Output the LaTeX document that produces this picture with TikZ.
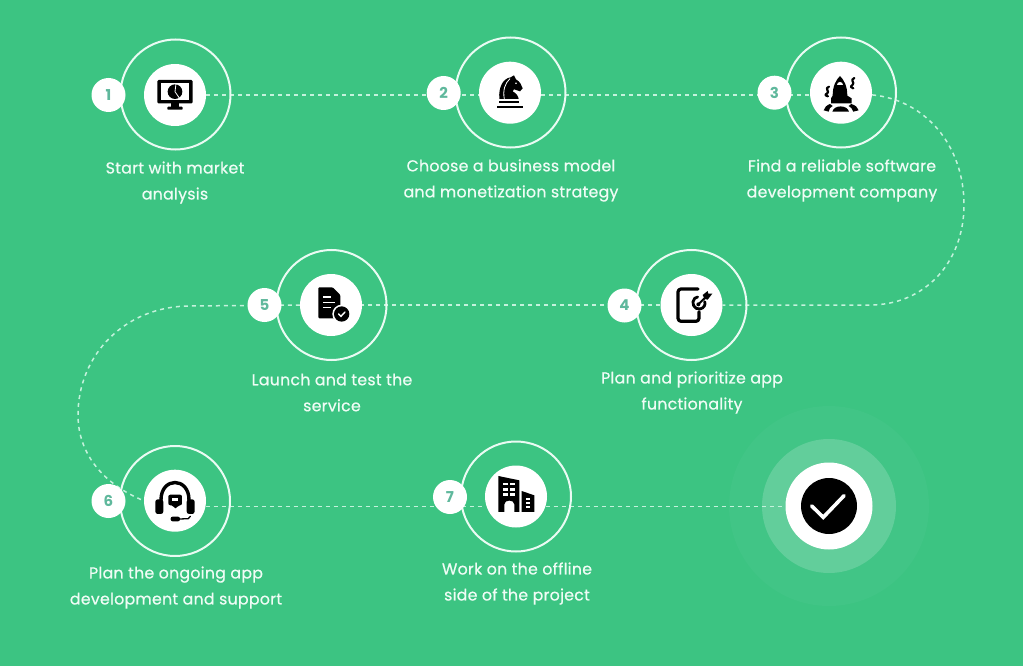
\documentclass[tikz,border=0pt]{standalone}
\usepackage{fontspec}
\setmainfont{Poppins}
\newfontfamily\labfont[FakeBold=0.6,LetterSpace=1.6]{Poppins}
\usetikzlibrary{backgrounds,calc}
\definecolor{bggreen}{HTML}{3CC482}
\definecolor{glowa}{HTML}{41C586}
\definecolor{glowb}{HTML}{62CE9B}
\definecolor{ringc}{HTML}{EAFBF3}
\definecolor{dashc}{HTML}{C4F2DC}
\definecolor{numc}{HTML}{5FB89C}
\definecolor{textc}{HTML}{EFFCF5}
\tikzset{
  ringn/.style={circle,draw=ringc,line width=2pt,minimum size=110pt,inner sep=0pt},
  hub/.style={circle,fill=white,minimum size=62pt,inner sep=0pt},
  badge/.style={circle,fill=white,minimum size=34pt,inner sep=0pt,text=numc,font=\fontsize{15}{15}\selectfont\bfseries},
  lab/.style={align=center,text=textc,font=\labfont\fontsize{15.8}{26}\selectfont},
  link/.style={draw=dashc,line width=1.5pt,dash pattern=on 4pt off 4pt},
  zoomicon/.style 2 args={shift={(#1,#2)},x=0.3333pt,y=-0.3333pt},
  ib/.style={fill=black},
  iw/.style={fill=white},
  cut/.style={draw=white,line width=.8pt},
  ink/.style={draw=black,line cap=round,line join=round}
}
\begin{document}
\begin{tikzpicture}[x=1pt,y=-1pt]
\useasboundingbox (0,0) rectangle (1023,666);
% step 1-7 rings, badges, hubs
\node[ringn] (r1) at (175.5,94.5) {};
\node[ringn] (r2) at (510.5,92.5) {};
\node[ringn] (r3) at (841,92.5) {};
\node[ringn] (r4) at (691.5,305) {};
\node[ringn] (r5) at (331.5,305) {};
\node[ringn] (r6) at (175,501) {};
\node[ringn] (r7) at (516,496.5) {};
\node[hub] (i1) at (175,95) {};
\node[hub] (i2) at (510,92.7) {};
\node[hub] (i3) at (841,92.7) {};
\node[hub] (i4) at (691.5,305) {};
\node[hub] (i5) at (331,305) {};
\node[hub] (i6) at (175,500.7) {};
\node[hub] (i7) at (516,496.5) {};
\node[badge] (b1) at (108.5,95) {1};
\node[badge] (b2) at (443.7,93) {2};
\node[badge] (b3) at (774.5,92.7) {3};
\node[badge] (b4) at (624.5,305.5) {4};
\node[badge] (b5) at (264.5,305) {5};
\node[badge] (b6) at (108.5,501) {6};
\node[badge] (b7) at (450,497) {7};
% finish
\node[circle,fill=white,minimum size=87pt,inner sep=0pt] (g3) at (829,506) {};
\node[circle,fill=black,minimum size=56pt,inner sep=0pt] (g4) at (829,506) {};
\draw[white,line width=3.6pt,line cap=round,line join=miter] (811.7,506) -- (823.3,517.3) -- (844,495.7);
% labels
\node[lab] (t1) at (175,182.5) {Start with market\\analysis};
\node[lab] (t2) at (511,180.5) {Choose a business model\\and monetization strategy};
\node[lab] (t3) at (842,180.5) {Find a reliable software\\development company};
\node[lab] (t4) at (692,392.5) {Plan and prioritize app\\functionality};
\node[lab] (t5) at (332,392.5) {Launch and test the\\service};
\node[lab] (t6) at (176,587.5) {Plan the ongoing app\\development and support};
\node[lab] (t7) at (517,583.5) {Work on the offline\\side of the project};
% connectors
\begin{scope}[on background layer]
\fill[bggreen] (0,0) rectangle (1023,666);
\node[circle,fill=glowa,minimum size=200pt,inner sep=0pt] (g1) at (829,506) {};
\node[circle,fill=glowb,minimum size=134pt,inner sep=0pt] (g2) at (829,506) {};
\draw[link] (i1.east) -- (i1.east -| i2.west);
\draw[link] (i2.-4) -- (i2.-4 -| i3.west);
\draw[link] (i3.-4) .. controls (925,100) and (964,145) .. (964,205) .. controls (964,262) and (925,305) .. (870,305) -- (i4.east);
\draw[link] (i4.west) -- (i5.east);
\draw[link] (i5.west) -- (190,306) .. controls (125,306) and (78,355) .. (78,415) .. controls (78,455) and (105,485) .. (i6.west);
\draw[link] (i6.-11) -- (i6.-11 -| i7.west);
\draw[link] (i7.-19) -- (i7.-19 -| g3.west);
\end{scope}
% icon 1 monitor
\begin{scope}[zoomicon={80}{30}]
\fill[ib,rounded corners=1.2pt] (232,150) rectangle (338,220);
\fill[iw] (242,160) rectangle (328,209);
\fill[ib] (272,220) rectangle (298,230);
\fill[ib,rounded corners=.8pt] (262,230) rectangle (308,239);
\fill[ib] (285,185) circle[radius=22];
\draw[cut] (288,161) -- (285,185) -- (300,207);
\end{scope}
% icon 2 knight
\begin{scope}[zoomicon={420}{30}]
\fill[ib] (238,207) .. controls (235,170) and (250,145) .. (272,142) -- (282,136) -- (288,148) .. controls (300,155) and (305,165) .. (308,175) -- (300,184) -- (282,178) -- (278,184) .. controls (290,190) and (295,200) .. (296,207) -- cycle;
\draw[cut] (253,207) .. controls (248,180) and (255,160) .. (270,146);
\fill[iw] (288,160) circle[radius=2.5];
\fill[ib] (238,212) rectangle (296,220);
\fill[ib] (232,227) rectangle (308,235);
\end{scope}
% icon 3 rocket
\begin{scope}[zoomicon={750}{30}]
\fill[ib] (248,197) .. controls (248,168) and (258,150) .. (270,138) .. controls (282,150) and (292,168) .. (292,197) -- (305,205) -- (305,220) -- (243,220) -- (243,205) -- cycle;
\fill[iw] (262,165) .. controls (262,153) and (280,153) .. (280,165) -- cycle;
\fill[ib] (247,245) .. controls (252,224) and (292,224) .. (297,245) -- cycle;
\fill[ib] (221,241) .. controls (223,232) and (230,226) .. (240,222) -- (248,228) .. controls (240,232) and (238,236) .. (236,245) -- cycle;
\fill[ib] (326,241) .. controls (324,232) and (316,226) .. (304,222) -- (296,228) .. controls (304,232) and (306,236) .. (310,245) -- cycle;
\draw[ink,line width=2.2pt] (237,170) .. controls (222,174) and (240,185) .. (232,190) .. controls (225,194) and (224,196) .. (234,199);
\draw[ink,line width=2.2pt] (313,144) .. controls (298,150) and (316,158) .. (308,164) .. controls (301,168) and (300,171) .. (310,175);
\end{scope}
% icon 4 phone with target
\begin{scope}[zoomicon={600}{245}]
\draw[ink,line width=3.2pt,rounded corners=3pt] (294,132) -- (234,132) -- (234,229) -- (297,229) -- (297,200);
\draw[ink,line width=2.8pt] (293,156) -- (284,160) .. controls (272,172) and (282,195) .. (300,192) .. controls (312,190) and (318,178) .. (314,170);
\fill[ib] (295,178) circle[radius=6];
\draw[ink,line width=2pt] (295,178) -- (322,152);
\fill[ib] (308,150) -- (323,138) -- (325,146) -- (337,146) -- (323,164) -- (314,162) -- cycle;
\end{scope}
% icon 5 document
\begin{scope}[zoomicon={240}{245}]
\fill[ib,rounded corners=1pt] (235,127) -- (278,127) -- (301,150) -- (301,220) -- (235,220) -- cycle;
\draw[white,line width=1.3pt] (250,156) -- (272,156) (250,172) -- (286,172) (250,188) -- (272,188);
\fill[iw] (305,207) circle[radius=28];
\fill[ib] (305,207) circle[radius=23];
\draw[white,line width=1.4pt,line cap=round] (296,207) -- (303,214) -- (315,201);
\end{scope}
% icon 6 headset
\begin{scope}[zoomicon={85}{440}]
\draw[ink,line width=3.4pt] (228,180) .. controls (228,110) and (312,110) .. (312,180);
\fill[ib,rounded corners=2.5pt] (211,178) rectangle (235,222);
\fill[ib,rounded corners=2.5pt] (305,178) rectangle (329,222);
\fill[ib,rounded corners=2pt] (250,164) -- (291,164) -- (291,196) -- (279,196) -- (271,208) -- (265,196) -- (250,196) -- cycle;
\fill[iw] (262,175) rectangle (280,183);
\fill[ib,rounded corners=2pt] (257,230) rectangle (285,244);
\draw[ink,line width=1.3pt] (285,237) -- (310,236) -- (316,229);
\end{scope}
% icon 7 buildings
\begin{scope}[zoomicon={425}{436}]
\fill[ib] (220,120) -- (283,133) -- (283,228) -- (268,228) -- (268,205) .. controls (268,190) and (238,190) .. (238,205) -- (238,228) -- (220,228) -- cycle;
\foreach \wy in {140,156,172}{
  \fill[iw] (235,\wy) rectangle (248,\wy+8);
  \fill[iw] (256,\wy) rectangle (269,\wy+8);
}
\fill[ib] (290,165) -- (328,178) -- (328,228) -- (290,228) -- cycle;
\foreach \wy in {185,198,211}{
  \fill[iw] (302,\wy) rectangle (316,\wy+6);
}
\end{scope}
\end{tikzpicture}
\end{document}
